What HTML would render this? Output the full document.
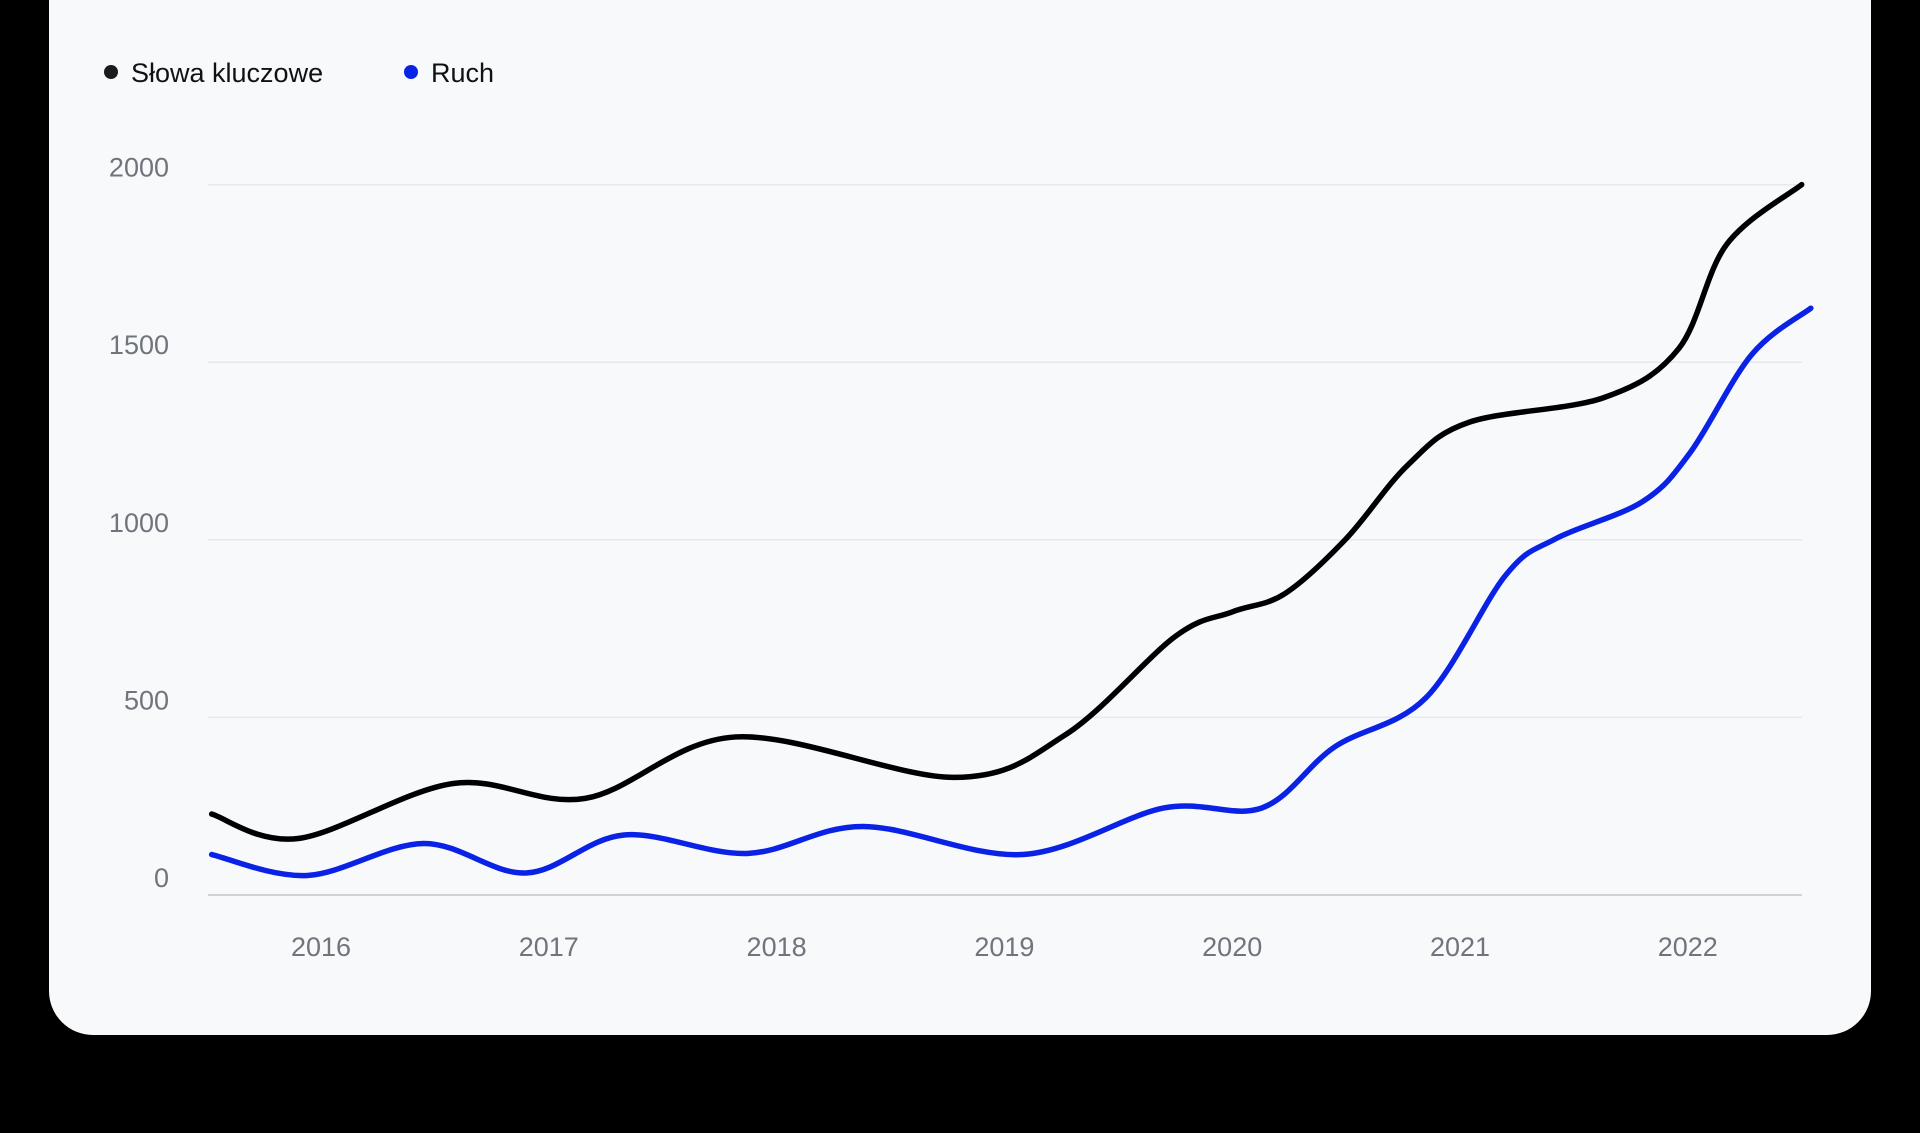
<!DOCTYPE html>
<html><head><meta charset="utf-8"><style>
html,body{margin:0;padding:0;background:#000;width:1920px;height:1133px;overflow:hidden;font-family:"Liberation Sans",sans-serif}
#card{position:absolute;left:49px;top:-45px;width:1822px;height:1080px;background:#f7f9fb;border-radius:44px}
svg{position:absolute;left:0;top:0}
</style></head><body>
<div id="card"></div>
<svg id="chart" width="1920" height="1133">
<g>
<g><circle cx="111" cy="72" r="7" fill="#1b1b1f"/><text x="131" y="82" font-size="27" fill="#111">Słowa kluczowe</text></g>
<g><circle cx="411" cy="72" r="7" fill="#0a22e6"/><text x="431" y="82" font-size="27" fill="#111">Ruch</text></g>
</g>
<g id="grid"></g><g id="yt"></g><g id="xt"></g><g id="lines"></g>
</svg>
<script>
const yTicks=[0,500,1000,1500,2000];
const xYears=[2016,2017,2018,2019,2020,2021,2022];
const kwX=[2015.52,2015.9,2016.58,2017.16,2017.82,2018.78,2019.27,2019.75,2020.0,2020.23,2020.5,2020.77,2021.04,2021.63,2021.96,2022.17,2022.5];
const kwY=[228,159,314,272,445,331,452,728,797,848,1003,1210,1331,1400,1538,1831,2000];
const trX=[2015.52,2015.94,2016.45,2016.9,2017.33,2017.87,2018.38,2019.08,2019.7,2020.13,2020.45,2020.85,2021.2,2021.42,2021.8,2022.01,2022.28,2022.54];
const trY=[114,55,145,62,169,117,193,114,245,245,417,555,900,1003,1107,1245,1521,1652];
const NS="http://www.w3.org/2000/svg";
const xs=v=>321+(v-2016)*227.8;
const ys=v=>895-v*0.3552;
function mk(t,a,p){const e=document.createElementNS(NS,t);for(const k in a)e.setAttribute(k,a[k]);p.appendChild(e);return e;}
const grid=document.getElementById('grid'),yt=document.getElementById('yt'),xt=document.getElementById('xt'),lines=document.getElementById('lines');
yTicks.forEach(v=>{
 const l=mk('line',{x1:208,x2:1802,y1:ys(v),y2:ys(v),stroke:v===0?'#cfd3d8':'#e6e9ed','stroke-width':v===0?2:1.5},grid);
 
 
 const t=mk('text',{x:169,y:ys(v)-8,'text-anchor':'end','font-size':27,fill:'#70747c'},yt);
 t.textContent=v;
 
 
});
xYears.forEach(v=>{
 const t=mk('text',{x:xs(v),y:956,'text-anchor':'middle','font-size':27,fill:'#70747c'},xt);
 t.textContent=v;
 
 
});
function path(X,Y){
 const P=X.map((x,i)=>[xs(x),ys(Y[i])]);
 let d='M'+P[0][0]+','+P[0][1];
 for(let i=0;i<P.length-1;i++){
  const p0=P[Math.max(0,i-1)],p1=P[i],p2=P[i+1],p3=P[Math.min(P.length-1,i+2)];
  const c1=[p1[0]+(p2[0]-p0[0])/6,p1[1]+(p2[1]-p0[1])/6],c2=[p2[0]-(p3[0]-p1[0])/6,p2[1]-(p3[1]-p1[1])/6];
  d+=` C${c1[0]},${c1[1]} ${c2[0]},${c2[1]} ${p2[0]},${p2[1]}`;
 }
 return d;
}
const a=mk('path',{d:path(trX,trY),fill:'none',stroke:'#0a22e6','stroke-width':5.5,'stroke-linecap':'round'},lines);


const b=mk('path',{d:path(kwX,kwY),fill:'none',stroke:'#000','stroke-width':5.5,'stroke-linecap':'round'},lines);


</script>
</body></html>
